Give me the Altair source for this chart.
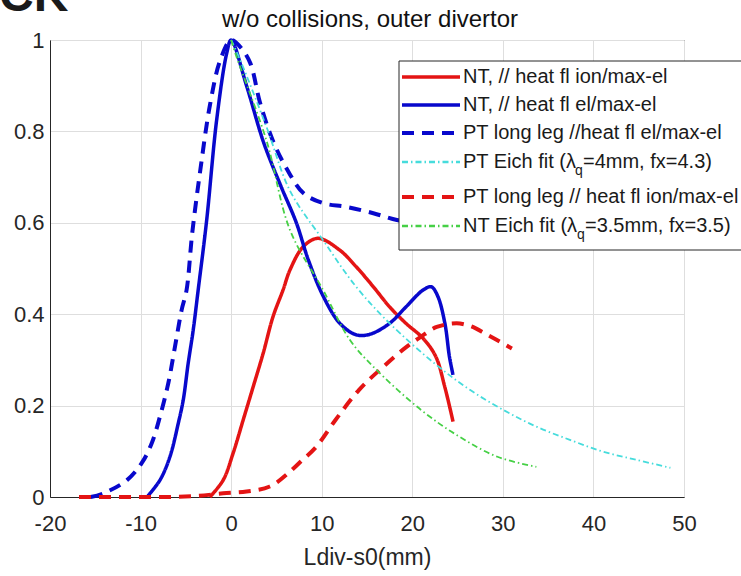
import altair as alt
import pandas as pd

# ---------------- data ----------------
nt_ion_x = [-2.35, -0.88, 0.22, 1.32, 2.43, 3.53, 4.63, 5.73, 6.5, 7.97, 9.6, 12.0, 13.8, 15.7, 17.5, 19.3, 21.2, 22.6, 23.6, 24.5]
nt_ion_y = [0.0, 0.037, 0.096, 0.168, 0.241, 0.314, 0.395, 0.453, 0.497, 0.548, 0.566, 0.540, 0.504, 0.460, 0.416, 0.380, 0.347, 0.307, 0.24, 0.165]

nt_el_x = [-9.3, -7.86, -6.76, -5.84, -5.29, -4.74, -4.19, -3.64, -2.7, -1.6, -0.5, 0.0, 1.7, 3.6, 5.5, 7.2, 8.5, 10.15, 12.0, 13.8, 15.3, 17.5, 19.3, 21.2, 22.1, 22.8, 23.6, 24.1, 24.5]
nt_el_y = [0.0, 0.037, 0.088, 0.161, 0.212, 0.293, 0.365, 0.453, 0.606, 0.825, 0.97, 1.0, 0.90, 0.775, 0.68, 0.60, 0.52, 0.44, 0.38, 0.355, 0.356, 0.38, 0.416, 0.453, 0.46, 0.44, 0.38, 0.307, 0.267]

pt_el_x = [-15.5, -14.1, -11.5, -9.88, -8.78, -7.86, -6.94, -6.2, -5.47, -4.92, -4.3, -3.4, -2.3, -1.2, 0.0, 1.0, 2.1, 3.2, 4.6, 6.2, 7.97, 10.15, 12.7, 15.7, 18.3, 21.0, 24.0]
pt_el_y = [0.0, 0.008, 0.037, 0.074, 0.117, 0.176, 0.249, 0.329, 0.409, 0.453, 0.577, 0.716, 0.862, 0.956, 1.0, 0.985, 0.95, 0.862, 0.78, 0.716, 0.665, 0.643, 0.635, 0.621, 0.606, 0.598, 0.59]

pt_eich_x = [0.0, 1.0, 3.9, 6.5, 10.15, 13.8, 17.5, 22.6, 26.4, 30.1, 33.7, 37.4, 41.1, 44.8, 48.5]
pt_eich_y = [1.0, 0.956, 0.81, 0.67, 0.562, 0.46, 0.38, 0.29, 0.234, 0.19, 0.154, 0.125, 0.099, 0.081, 0.064]

pt_ion_x = [-16.8, -12.0, -8.0, -4.0, -0.88, 1.7, 4.27, 6.47, 7.6, 9.4, 11.5, 14.1, 16.8, 19.4, 20.9, 22.7, 24.9, 26.4, 28.2, 31.0]
pt_ion_y = [0.0, 0.0, 0.0, 0.002, 0.008, 0.012, 0.023, 0.055, 0.076, 0.11, 0.168, 0.234, 0.285, 0.329, 0.35, 0.372, 0.38, 0.374, 0.356, 0.325]

nt_eich_x = [0.0, 0.6, 3.9, 6.5, 10.15, 13.1, 15.7, 21.0, 25.2, 29.4, 33.7]
nt_eich_y = [1.0, 0.963, 0.78, 0.584, 0.453, 0.344, 0.285, 0.19, 0.132, 0.088, 0.066]

labels = [
    "NT, // heat fl ion/max-el",
    "NT, // heat fl el/max-el",
    "PT long leg //heat fl el/max-el",
    "PT Eich fit (λq=4mm, fx=4.3)",
    "PT long leg // heat fl ion/max-el",
    "NT Eich fit (λq=3.5mm, fx=3.5)",
]
x_ticks = [-20, -10, 0, 10, 20, 30, 40, 50]
y_ticks = [0, 0.2, 0.4, 0.6, 0.8, 1.0]
title_text = "w/o collisions, outer divertor"
x_title = "Ldiv-s0(mm)"
corner_text = "CK"

# ---------------- styles ----------------
FONT = "Liberation Sans"
RED, BLUE, CYAN, GREEN = "#e41414", "#0808cc", "#46dcdc", "#46d046"
DASH = [12, 8]
DASHDOT = [6, 3, 1.5, 3]
styles = [
    (RED, [1, 0], 3.5),
    (BLUE, [1, 0], 3.5),
    (BLUE, DASH, 4),
    (CYAN, DASHDOT, 1.8),
    (RED, DASH, 4),
    (GREEN, DASHDOT, 1.8),
]
interps = ["catmull-rom", "catmull-rom", "catmull-rom", "catmull-rom", "monotone", "catmull-rom"]
xs = [nt_ion_x, nt_el_x, pt_el_x, pt_eich_x, pt_ion_x, nt_eich_x]
ys = [nt_ion_y, nt_el_y, pt_el_y, pt_eich_y, pt_ion_y, nt_eich_y]

W, H = 634, 457
PAD_L, PAD_T = 50, 40

x_enc = alt.X(
    "x:Q",
    scale=alt.Scale(domain=[-20, 50], nice=False, zero=False),
    axis=alt.Axis(values=x_ticks, title=x_title, labelExpr="'' + datum.value",
                  labelFlush=False, labelPadding=16, titlePadding=12),
)
y_enc = alt.Y(
    "y:Q",
    scale=alt.Scale(domain=[0, 1], nice=False),
    axis=alt.Axis(values=y_ticks, title=None, format=".1~f", labelPadding=6, labelFlush=False),
)

layers = []
for sx, sy, (col, dash, sw), ip in zip(xs, ys, styles, interps):
    df = pd.DataFrame({"x": sx, "y": sy})
    layers.append(
        alt.Chart(df).mark_line(color=col, strokeDash=dash, strokeWidth=sw, interpolate=ip)
        .encode(x=x_enc, y=y_enc)
    )

one = pd.DataFrame({"a": [0]})

# corner text (partly cut off at the top) and the title
layers.append(
    alt.Chart(one).mark_text(text=corner_text, font=FONT, fontSize=48, fontWeight="bold",
                             color="#1a1a1a", align="left", baseline="alphabetic")
    .encode(x=alt.value(-PAD_L - 1), y=alt.value(-29))
)
layers.append(
    alt.Chart(one).mark_text(text=title_text, font=FONT, fontSize=24, color="#111111",
                             align="center", baseline="alphabetic")
    .encode(x=alt.value(W / 2 + 3), y=alt.value(-13))
)

# legend (drawn by hand so that the subscripts can be shown)
LEG_X0, LEG_Y0, LEG_Y1 = 349, 21, 210
row_y = [37, 65, 93, 122, 157, 186]
layers.append(
    alt.Chart(one).mark_rect(fill="white", stroke="#262626", strokeWidth=1)
    .encode(x=alt.value(LEG_X0), x2=alt.value(W + 120), y=alt.value(LEG_Y0), y2=alt.value(LEG_Y1))
)
for lab, (col, dash, sw), ry in zip(labels, styles, row_y):
    layers.append(
        alt.Chart(one).mark_rule(color=col, strokeDash=dash, strokeWidth=sw + (0.6 if sw < 3 else 0))
        .encode(x=alt.value(352), x2=alt.value(410), y=alt.value(ry))
    )
    if "λq" in lab:
        p1, p3 = lab.split("λq")
        p1 = p1 + "λ"
        qx = 413 + (112 if p1.startswith("PT") else 114)
        parts = [(p1, 413, ry, 20), ("q", qx, ry + 9, 14), (p3, qx + 8, ry, 20)]
    else:
        parts = [(lab, 413, ry, 20)]
    for txt, tx, ty, fs in parts:
        layers.append(
            alt.Chart(one).mark_text(text=txt, font=FONT, fontSize=fs, color="#1a1a1a",
                                     align="left", baseline="middle")
            .encode(x=alt.value(tx), y=alt.value(ty))
        )

chart = (
    alt.layer(*layers)
    .properties(
        width=W, height=H,
        autosize=alt.AutoSizeParams(type="none"),
        padding={"left": PAD_L, "top": PAD_T, "right": 741 - PAD_L - W, "bottom": 576 - PAD_T - H},
    )
    .configure_view(stroke="#262626", strokeWidth=1)
    .configure_axis(
        labelFont=FONT, labelFontSize=22, labelColor="#262626",
        titleFont=FONT, titleFontSize=23, titleColor="#262626", titleFontWeight="normal",
        grid=True, gridColor="#dedede", gridWidth=1,
        domainColor="#262626", domainWidth=1, ticks=False,
    )
)

chart.save("out.html", embed_options={"renderer": "svg", "actions": False})
